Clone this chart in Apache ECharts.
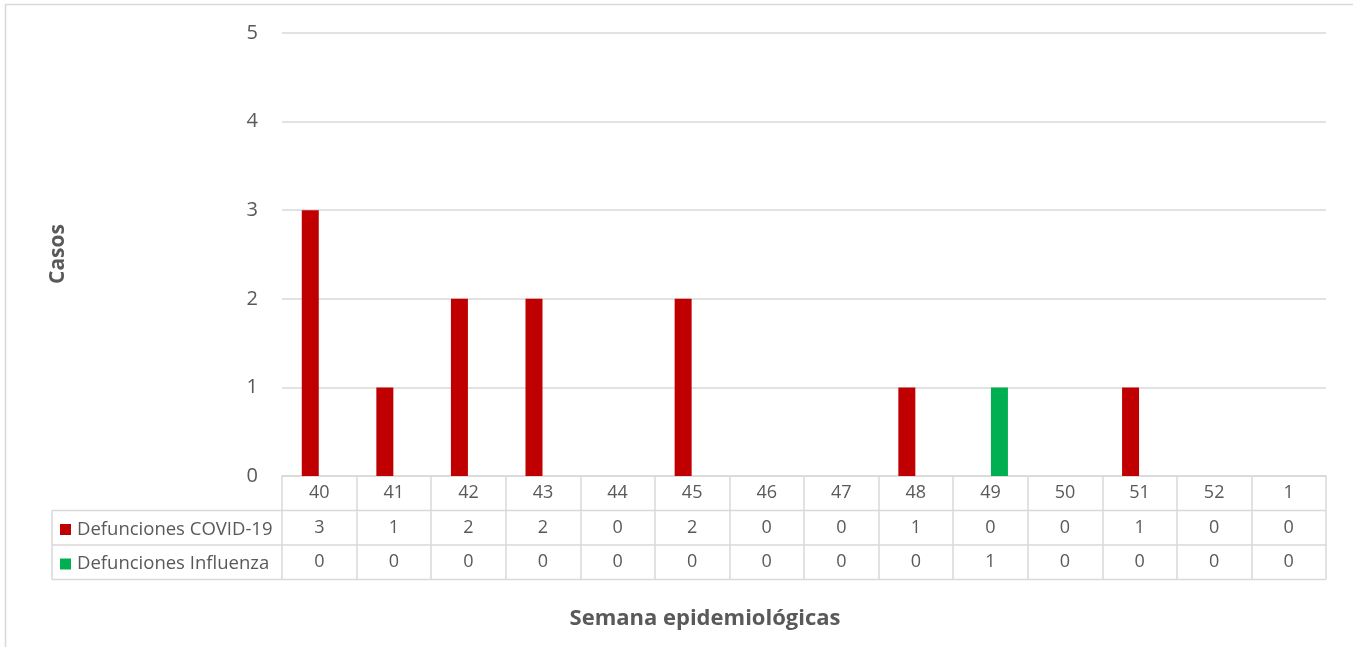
<!DOCTYPE html>
<html>
<head>
<meta charset="utf-8">
<script src="https://cdn.jsdelivr.net/npm/echarts@6/dist/echarts.min.js"></script>
<style>html,body{margin:0;padding:0;background:#fff}#c{width:1353px;height:647px}</style>
</head>
<body>
<div id="c"></div>
<script>
const weeks = ['40','41','42','43','44','45','46','47','48','49','50','51','52','1'];
const covid = [3,1,2,2,0,2,0,0,1,0,0,1,0,0];
const influenza = [0,0,0,0,0,0,0,0,0,1,0,0,0,0];
const seriesNames = ['Defunciones COVID-19','Defunciones Influenza'];
const yTicks = [0,1,2,3,4,5];

const FONT = '"Open Sans", "Noto Sans", sans-serif';
const TXT = '#595959';
const LINE = '#D9D9D9';
const W = 1353, H = 647;
const gLeft = 282, gRight = 1326, gTop = 33, gBottom = 476;
const rowH = 34.5;
const tableLeft = 52;

const chart = echarts.init(document.getElementById('c'), null, {renderer:'canvas'});
chart.setOption({
  animation:false,
  backgroundColor:'#fff',
  grid:{left:gLeft, right:W-gRight, top:gTop, bottom:H-gBottom, containLabel:false},
  legend:{
    orient:'vertical', left:55, top:gBottom+rowH+3, itemWidth:11, itemHeight:11, itemGap:12.5,
    icon:'rect', data:seriesNames,
    textStyle:{fontFamily:FONT, fontSize:18.5, color:TXT, lineHeight:22, padding:[0,0,0,1]}
  },
  xAxis:{
    type:'category', data:weeks, boundaryGap:true,
    axisLine:{show:true, lineStyle:{color:LINE, width:1.5}},
    axisTick:{show:true, interval:0, length:rowH*3, lineStyle:{color:LINE, width:1.5}},
    axisLabel:{
      interval:0, margin:0,
      formatter:(v,i)=>`{a|${v}}\n{a|${covid[i]}}\n{a|${influenza[i]}}`,
      rich:{a:{fontFamily:FONT, fontSize:18, color:TXT, lineHeight:rowH, height:rowH, align:'center', verticalAlign:'middle'}}
    }
  },
  yAxis:{
    type:'value', min:yTicks[0], max:yTicks[yTicks.length-1], interval:1,
    axisLine:{show:false}, axisTick:{show:false},
    axisLabel:{fontFamily:FONT, fontSize:20, color:TXT, margin:24},
    splitLine:{lineStyle:{color:LINE, width:1.5}}
  },
  series:[
    {name:seriesNames[0], type:'bar', data:covid, barWidth:17, barGap:'6%', itemStyle:{color:'#C00000'}},
    {name:seriesNames[1], type:'bar', data:influenza, barWidth:17, itemStyle:{color:'#00B050'}}
  ],
  graphic:[
    {type:'rect', shape:{x:5.5, y:4.5, width:1400, height:700}, style:{fill:null, stroke:LINE, lineWidth:1.5}, silent:true},
    {type:'line', shape:{x1:tableLeft, y1:gBottom+rowH, x2:gRight, y2:gBottom+rowH}, style:{stroke:LINE, lineWidth:1.5}},
    {type:'line', shape:{x1:tableLeft, y1:gBottom+rowH*2, x2:gRight, y2:gBottom+rowH*2}, style:{stroke:LINE, lineWidth:1.5}},
    {type:'line', shape:{x1:tableLeft, y1:gBottom+rowH*3, x2:gRight, y2:gBottom+rowH*3}, style:{stroke:LINE, lineWidth:1.5}},
    {type:'line', shape:{x1:tableLeft, y1:gBottom+rowH, x2:tableLeft, y2:gBottom+rowH*3}, style:{stroke:LINE, lineWidth:1.5}},
    {type:'text', x:58, y:254, rotation:Math.PI/2, style:{text:'Casos', font:'bold 21px '+FONT, fill:TXT, align:'center', verticalAlign:'middle'}},
    {type:'text', x:705, y:619, style:{text:'Semana epidemiológicas', font:'bold 22px '+FONT, fill:TXT, align:'center', verticalAlign:'middle'}}
  ]
});
</script>
</body>
</html>
